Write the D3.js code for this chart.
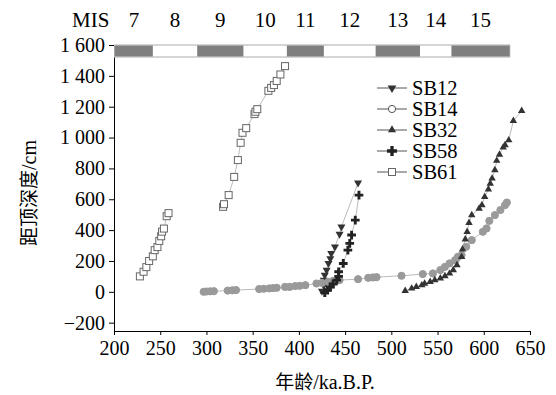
<!DOCTYPE html>
<html>
<head>
<meta charset="utf-8">
<script src="https://cdn.jsdelivr.net/npm/d3@7"></script>
</head>
<body style="margin:0">
<script>
// ages (ka B.P.) and depths (cm)
const sb12 = [[425,5],[427,40],[427,76],[428,108],[430,141],[432,184],[434,216],[435,249],[439,292],[444,374],[446,421],[464,706]];
const sb14 = [[297,0],[300,2],[304,3],[308,4],[323,8],[328,10],[332,11],[357,18],[362,20],[368,22],[372,24],[376,26],
  [385,32],[390,32],[396,37],[401,39],[407,43],[419,54],[425,58],[432,65],[437,71],[444,76],[464,82],[475,91],[480,93],[484,95],
  [511,104],[534,115],[545,119],[553,141],[558,162],[563,184],[569,205],[572,227],[576,238],[581,292],[587,335],[599,389],
  [603,411],[606,460],[612,497],[618,530],[623,562],[625,579]];
const sb32 = [[515,6],[522,22],[527,32],[533,43],[536,54],[542,65],[547,76],[553,87],[558,102],[563,119],[567,141],[571,173],
  [576,227],[577,275],[580,340],[582,389],[584,447],[587,497],[595,540],[598,562],[601,616],[605,664],[607,702],[609,735],
  [612,789],[614,850],[617,890],[621,936],[623,951],[627,983],[632,1108],[641,1173]];
const sb58 = [[428,-5],[431,10],[434,32],[437,50],[441,76],[443,100],[443,130],[448,184],[453,270],[455,314],[457,368],[461,465],[465,627]];
const sb61 = [[228,100],[232,130],[235,160],[238,200],[242,230],[244,270],[247,290],[249,330],[251,360],[252,390],[254,410],[257,490],[259,510],
  [318,551],[319,568],[324,627],[330,745],[334,854],[337,966],[339,1031],[343,1061],[352,1152],[353,1167],[355,1184],
  [367,1303],[370,1322],[373,1340],[376,1367],[380,1409],[385,1463]];

const misLabels = ["7","8","9","10","11","12","13","14","15"];
const misBounds = [201, 242, 290, 340, 387, 427, 483, 531, 565, 628];

const xTicks = [200,250,300,350,400,450,500,550,600,650];
const yTicks = [-200,0,200,400,600,800,1000,1200,1400,1600];

const width = 556, height = 395;
const margin = {left: 114, right: 26, top: 45, bottom: 64};
const SERIF = '"Liberation Serif"';
const CJK = '"Noto Sans CJK SC"';

const svg = d3.select("body").append("svg")
  .attr("width", width).attr("height", height)
  .attr("font-family", "Liberation Serif");

const x = d3.scaleLinear().domain([200, 650]).range([margin.left, width - margin.right]);
const y = d3.scaleLinear().domain([-254, 1600]).range([height - margin.bottom, margin.top]);

const fmt = d => d3.format(",")(d).replace(",", " ");

function serifText(sel, size) {
  return sel.style("font-family", SERIF, "important").attr("font-size", size);
}

// axes
const xAxis = svg.append("g")
  .attr("transform", "translate(0," + (height - margin.bottom) + ")")
  .call(d3.axisBottom(x).tickValues(xTicks).tickSize(4).tickSizeOuter(0).tickPadding(6));
xAxis.attr("font-family", "Liberation Serif").attr("font-size", 20);
serifText(xAxis.selectAll("text"), 20).attr("fill", "#000");

const yAxis = svg.append("g")
  .attr("transform", "translate(" + margin.left + ",0)")
  .call(d3.axisLeft(y).tickValues(yTicks).tickFormat(fmt).tickSize(5).tickSizeOuter(0).tickPadding(4));
yAxis.attr("font-family", "Liberation Serif").attr("font-size", 20);
serifText(yAxis.selectAll("text"), 20).attr("fill", "#000");
svg.selectAll(".domain, .tick line").attr("stroke", "#000");

// MIS bar
const barY = 45, barH = 12;
svg.append("rect")
  .attr("x", x(misBounds[0])).attr("y", barY)
  .attr("width", x(misBounds[misBounds.length - 1]) - x(misBounds[0])).attr("height", barH)
  .attr("fill", "#fff").attr("stroke", "#c8c8c8").attr("stroke-width", 1.5);
misLabels.forEach((lab, i) => {
  const x0 = x(misBounds[i]), x1 = x(misBounds[i + 1]);
  if (i % 2 === 0) {
    svg.append("rect").attr("x", x0).attr("y", barY + 0.5)
      .attr("width", x1 - x0).attr("height", barH - 1).attr("fill", "#7f7f7f");
  }
  serifText(svg.append("text").attr("x", (x0 + x1) / 2).attr("y", 27)
    .attr("text-anchor", "middle"), 21).text(lab);
});
serifText(svg.append("text").attr("x", 72).attr("y", 27), 21).text("MIS");

// marker drawing
function marker(g, type, cx, cy, big) {
  const s = big ? 1.2 : 1;
  if (type === "down") {
    g.append("path").attr("d", d3.symbol(d3.symbolTriangle, 28 * s)())
      .attr("transform", `translate(${cx},${cy}) rotate(180)`).attr("fill", "#333");
  } else if (type === "circle") {
    g.append("circle").attr("cx", cx).attr("cy", cy).attr("r", 3.6)
      .attr("fill", big ? "#fff" : "#9a9a9a").attr("stroke", big ? "#555" : "#9a9a9a").attr("stroke-width", 1);
  } else if (type === "up") {
    g.append("path").attr("d", d3.symbol(d3.symbolTriangle, 24 * s)())
      .attr("transform", `translate(${cx},${cy})`).attr("fill", "#333");
  } else if (type === "cross") {
    g.append("path").attr("d", d3.symbol(d3.symbolCross, big ? 55 : 42)())
      .attr("transform", `translate(${cx},${cy})`).attr("fill", "#222");
  } else if (type === "square") {
    g.append("rect").attr("x", cx - 3.5).attr("y", cy - 3.5).attr("width", 7).attr("height", 7)
      .attr("fill", "#fff").attr("stroke", "#666").attr("stroke-width", 1);
  }
}

const series = [
  {name: "SB12", data: sb12, type: "down"},
  {name: "SB14", data: sb14, type: "circle"},
  {name: "SB32", data: sb32, type: "up"},
  {name: "SB58", data: sb58, type: "cross"},
  {name: "SB61", data: sb61.slice(0, 13), type: "square"},
  {name: "SB61b", data: sb61.slice(13), type: "square"}
];

const line = d3.line().x(d => x(d[0])).y(d => y(d[1]));
const plot = svg.append("g");
series.forEach(s => {
  plot.append("path").datum(s.data).attr("d", line)
    .attr("fill", "none").attr("stroke", "#aaa").attr("stroke-width", 0.8);
});
series.forEach(s => {
  const g = plot.append("g");
  s.data.forEach(d => marker(g, s.type, x(d[0]), y(d[1]), false));
});

// legend
const legend = svg.append("g");
series.slice(0, 5).forEach((s, i) => {
  const ly = 88 + i * 21;
  legend.append("line").attr("x1", 377).attr("x2", 407).attr("y1", ly).attr("y2", ly)
    .attr("stroke", "#555").attr("stroke-width", 1);
  marker(legend, s.type, 392, ly, true);
  serifText(legend.append("text").attr("x", 412).attr("y", ly + 7), 20.5).text(s.name);
});

// axis titles: CJK part and Latin part in their own tspans
function title(t, cjkPart, latPart) {
  t.append("tspan").style("font-family", CJK, "important").attr("font-size", 19).text(cjkPart);
  t.append("tspan").style("font-family", SERIF, "important").attr("font-size", 20).text(latPart);
}
title(svg.append("text").attr("x", 325).attr("y", 389).attr("text-anchor", "middle"), "年龄", "/ka.B.P.");
title(svg.append("text").attr("transform", "translate(36,193) rotate(-90)").attr("text-anchor", "middle"), "距顶深度", "/cm");
</script>
</body>
</html>
